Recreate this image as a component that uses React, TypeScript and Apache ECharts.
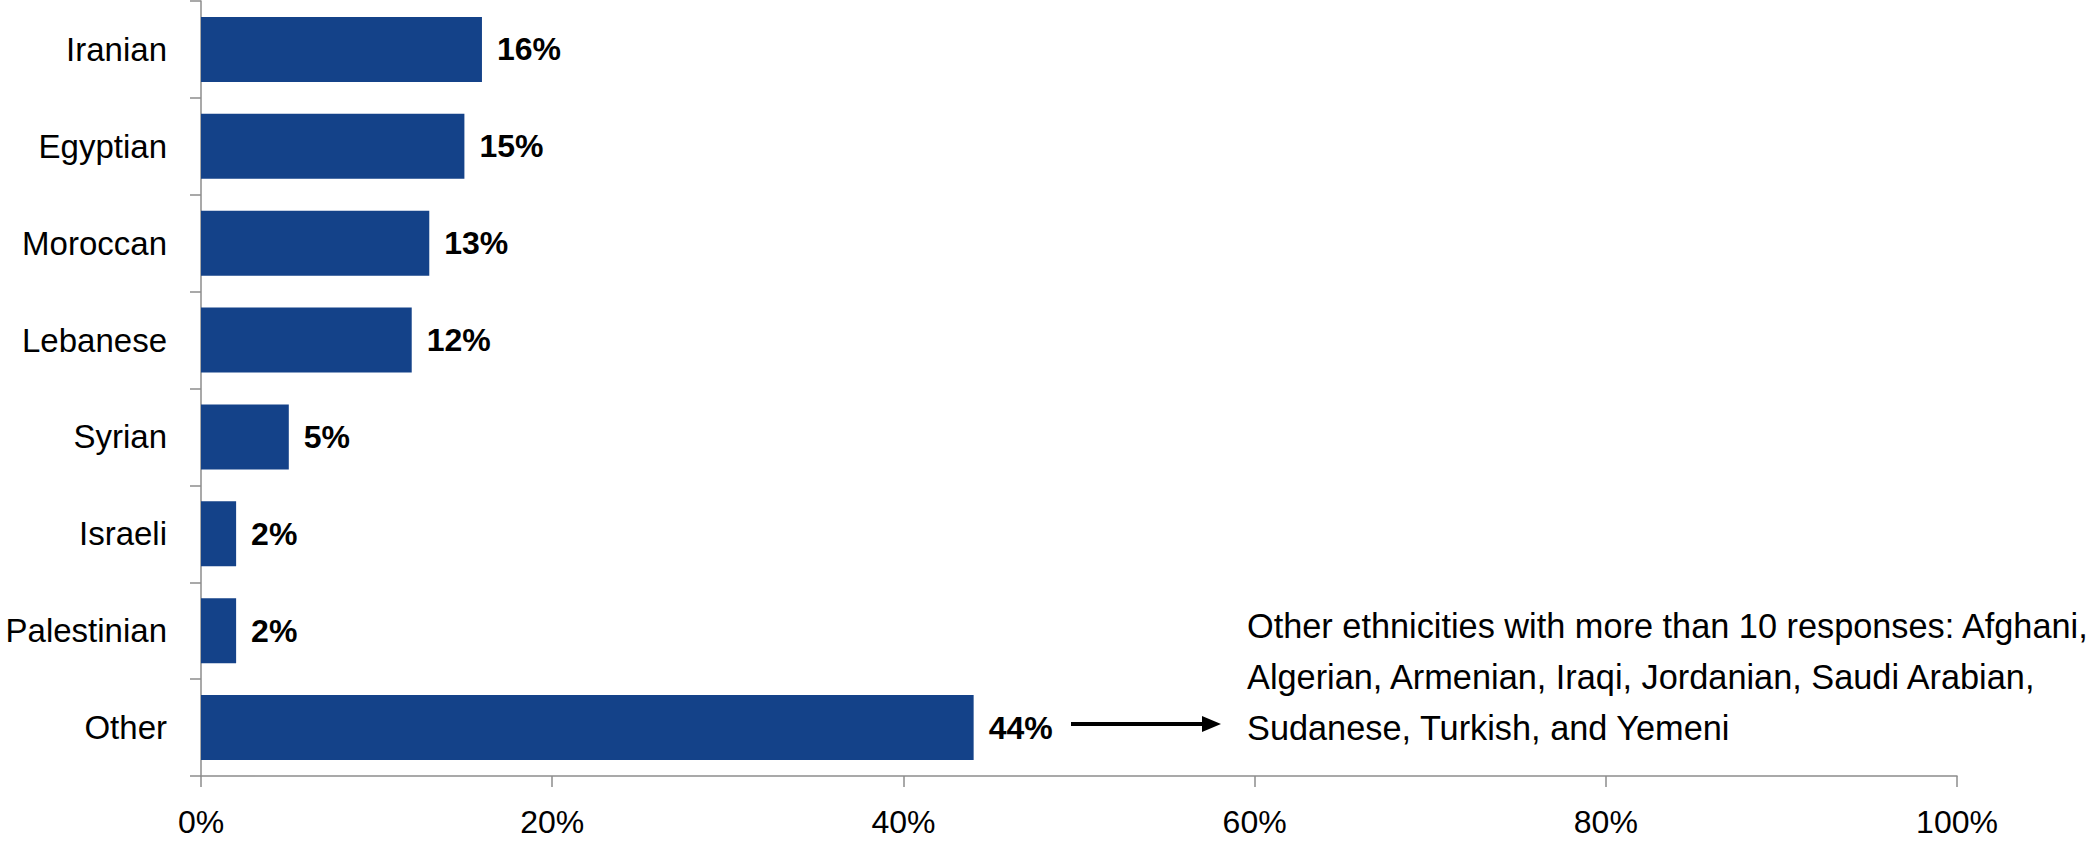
import React, { useEffect, useRef } from "react";
import * as echarts from "echarts";

const categories = ["Iranian", "Egyptian", "Moroccan", "Lebanese", "Syrian", "Israeli", "Palestinian", "Other"];
const shares = [16, 15, 13, 12, 5, 2, 2, 44];
const xTicks = [0, 20, 40, 60, 80, 100];
const noteLines = [
  "Other ethnicities with more than 10 responses: Afghani,",
  "Algerian, Armenian, Iraqi, Jordanian, Saudi Arabian,",
  "Sudanese, Turkish, and Yemeni",
];

const FONT = "'Liberation Sans', Arial, sans-serif";

export default function App() {
  const ref = useRef<HTMLDivElement>(null);
  useEffect(() => {
    if (!ref.current) return;
    const chart = echarts.init(ref.current, undefined, { renderer: "svg" });
    chart.setOption({
      animation: false,
      backgroundColor: "#ffffff",
      grid: { left: 201, right: 143, top: 1, bottom: 65, containLabel: false },
      xAxis: {
        type: "value",
        min: xTicks[0],
        max: xTicks[xTicks.length - 1],
        interval: 20,
        splitLine: { show: false },
        axisLine: { show: true, lineStyle: { color: "#8c8c8c", width: 1.5 } },
        axisTick: { show: true, length: 11, lineStyle: { color: "#8c8c8c", width: 1.5 } },
        axisLabel: {
          formatter: "{value}%",
          color: "#000",
          fontFamily: FONT,
          fontSize: 32,
          margin: 30,
        },
      },
      yAxis: {
        type: "category",
        data: categories,
        inverse: true,
        axisLine: { show: true, lineStyle: { color: "#8c8c8c", width: 1.5 } },
        axisTick: { show: true, length: 11, lineStyle: { color: "#8c8c8c", width: 1.5 } },
        axisLabel: {
          color: "#000",
          fontFamily: FONT,
          fontSize: 33,
          margin: 34,
        },
      },
      series: [
        {
          type: "bar",
          data: shares,
          barCategoryGap: "33%",
          itemStyle: { color: "#144289" },
          label: {
            show: true,
            position: "right",
            distance: 15,
            formatter: "{c}%",
            color: "#000",
            fontFamily: FONT,
            fontWeight: "bold",
            fontSize: 32,
          },
        },
      ],
      graphic: [
        {
          type: "line",
          shape: { x1: 1071, y1: 724, x2: 1205, y2: 724 },
          style: { stroke: "#000", lineWidth: 4 },
        },
        {
          type: "polygon",
          shape: { points: [[1202, 716], [1221, 724], [1202, 732]] },
          style: { fill: "#000" },
        },
        {
          type: "text",
          x: 1247,
          y: 677,
          style: {
            text: noteLines.join("\n"),
            fill: "#000",
            font: `34.3px ${FONT}`,
            lineHeight: 51,
            textAlign: "left",
            textVerticalAlign: "middle",
          },
        },
      ],
    });
    return () => chart.dispose();
  }, []);
  return (
    <div
      ref={ref}
      style={{ position: "fixed", left: 0, top: 0, width: 2100, height: 841 }}
    />
  );
}
